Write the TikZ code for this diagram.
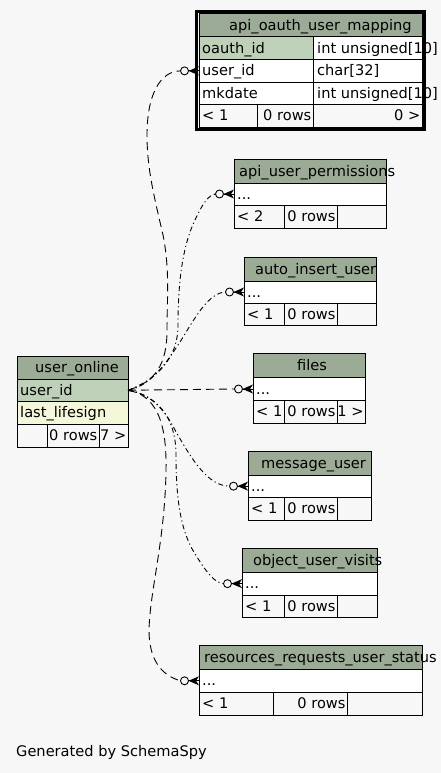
\documentclass[tikz,border=0pt]{standalone}
\usepackage{fontspec}
\setmainfont{DejaVu Sans}
\usetikzlibrary{calc}
\definecolor{bgc}{HTML}{F7F7F7}
\definecolor{hdr}{HTML}{9BAB96}
\definecolor{pkc}{HTML}{BED1B8}
\definecolor{idx}{HTML}{F4F7DA}
\newcommand\tabfont{\fontsize{14.6}{17}\selectfont}
\newcommand\mkcell[6]{\node[cell,fill=#2,minimum width=#5pt,minimum height=#6pt] (#1) at (#3,#4) {};}
\begin{document}
\begin{tikzpicture}[x=1pt,y=-1pt,
 cell/.style={draw=black,line width=1pt,anchor=north west,inner sep=0pt,outer sep=0pt},
 tL/.style={anchor=base west,inner sep=0pt,font=\tabfont},
 tR/.style={anchor=base east,inner sep=0pt,font=\tabfont},
 conn/.style={line width=0.9pt,dash pattern=on 8pt off 5pt},
 connB/.style={line width=0.9pt,dash pattern=on 5pt off 3pt on 1.2pt off 3pt},
 crowodot/.pic={\draw[line width=0.9pt] (-14.5,0) circle[radius=4pt];
   \fill (-10.5,0) -- (0,-4.5) -- (-3,0) -- (0,4.5) -- cycle;
   \draw[line width=0.9pt] (-10.5,0) -- (0,0);}
]
\fill[bgc] (0,0) rectangle (441,773);
\useasboundingbox (0,0) rectangle (441,773);

% api_oauth_user_mapping
\mkcell{oa-h}{hdr}{199}{14}{223}{23}
\mkcell{oa-1a}{pkc}{199}{37}{114}{22.6}
\mkcell{oa-1b}{white}{313}{37}{109}{22.6}
\mkcell{oa-2a}{white}{199}{59.6}{114}{22.6}
\mkcell{oa-2b}{white}{313}{59.6}{109}{22.6}
\mkcell{oa-3a}{white}{199}{82.2}{114}{22.6}
\mkcell{oa-3b}{white}{313}{82.2}{109}{22.6}
\mkcell{oa-f1}{bgc}{199}{104.8}{58}{22.4}
\mkcell{oa-f2}{bgc}{257}{104.8}{56}{22.4}
\mkcell{oa-f3}{bgc}{313}{104.8}{109}{22.4}
\node[tL] (oa-ht) at ($(oa-h.west)+(30,5)$) {api\_oauth\_user\_mapping};
\node[tL] (oa-1at) at ($(oa-1a.west)+(3,5)$) {oauth\_id};
\node[tL] (oa-1bt) at ($(oa-1b.west)+(4,5)$) {int unsigned[10]};
\node[tL] (oa-2at) at ($(oa-2a.west)+(3,5)$) {user\_id};
\node[tL] (oa-2bt) at ($(oa-2b.west)+(4,5)$) {char[32]};
\node[tL] (oa-3at) at ($(oa-3a.west)+(3,5)$) {mkdate};
\node[tL] (oa-3bt) at ($(oa-3b.west)+(4,5)$) {int unsigned[10]};
\node[tL] (oa-f1t) at ($(oa-f1.west)+(3,5)$) {< 1};
\node[tR] (oa-f2t) at ($(oa-f2.east)+(-1.5,5)$) {0 rows};
\node[tR] (oa-f3t) at ($(oa-f3.east)+(-1.5,5)$) {0 >};
\node[draw,line width=3pt,anchor=north west,inner sep=0pt,outer sep=0pt,minimum width=228pt,minimum height=118pt] (oa-frame) at (196.5,11.5) {};

% user_online
\mkcell{uo-h}{hdr}{17}{356}{111}{23}
\mkcell{uo-1}{pkc}{17}{379}{111}{22.5}
\mkcell{uo-2}{idx}{17}{401.5}{111}{22.5}
\mkcell{uo-f1}{bgc}{17}{424}{30}{23}
\mkcell{uo-f2}{bgc}{47}{424}{52}{23}
\mkcell{uo-f3}{bgc}{99}{424}{29}{23}
\node[tL] (uo-ht) at ($(uo-h.west)+(18,5)$) {user\_online};
\node[tL] (uo-1t) at ($(uo-1.west)+(3,5)$) {user\_id};
\node[tL] (uo-2t) at ($(uo-2.west)+(3,5)$) {last\_lifesign};
\node[tR] (uo-f2t) at ($(uo-f2.east)+(-1.5,5)$) {0 rows};
\node[tR] (uo-f3t) at ($(uo-f3.east)+(-1.5,5)$) {7 >};

% api_user_permissions
\mkcell{pe-h}{hdr}{234}{159}{152}{24}
\mkcell{pe-1}{white}{234}{183}{152}{22}
\mkcell{pe-f1}{bgc}{234}{205}{50}{23}
\mkcell{pe-f2}{bgc}{284}{205}{53}{23}
\mkcell{pe-f3}{bgc}{337}{205}{49}{23}
\node[tL] (pe-ht) at ($(pe-h.west)+(5,5)$) {api\_user\_permissions};
\node[tL] (pe-1t) at ($(pe-1.west)+(3,5)$) {...};
\node[tL] (pe-f1t) at ($(pe-f1.west)+(3,5)$) {< 2};
\node[tR] (pe-f2t) at ($(pe-f2.east)+(-1.3,5)$) {0 rows};

% auto_insert_user
\mkcell{ai-h}{hdr}{244}{257}{132}{24}
\mkcell{ai-1}{white}{244}{281}{132}{22}
\mkcell{ai-f1}{bgc}{244}{303}{40}{22}
\mkcell{ai-f2}{bgc}{284}{303}{53}{22}
\mkcell{ai-f3}{bgc}{337}{303}{39}{22}
\node[tL] (ai-ht) at ($(ai-h.west)+(11,5)$) {auto\_insert\_user};
\node[tL] (ai-1t) at ($(ai-1.west)+(3,5)$) {...};
\node[tL] (ai-f1t) at ($(ai-f1.west)+(3,5)$) {< 1};
\node[tR] (ai-f2t) at ($(ai-f2.east)+(-1.3,5)$) {0 rows};

% files
\mkcell{fi-h}{hdr}{253}{353.3}{112}{24}
\mkcell{fi-1}{white}{253}{377.3}{112}{23.4}
\mkcell{fi-f1}{bgc}{253}{400.7}{31}{22.3}
\mkcell{fi-f2}{bgc}{284}{400.7}{53}{22.3}
\mkcell{fi-f3}{bgc}{337}{400.7}{28}{22.3}
\node[tL] (fi-ht) at ($(fi-h.west)+(44,5)$) {files};
\node[tL] (fi-1t) at ($(fi-1.west)+(3,5)$) {...};
\node[tL] (fi-f1t) at ($(fi-f1.west)+(3,5)$) {< 1};
\node[tR] (fi-f2t) at ($(fi-f2.east)+(-1.3,5)$) {0 rows};
\node[tR] (fi-f3t) at ($(fi-f3.east)+(-1.3,5)$) {1 >};

% message_user
\mkcell{mu-h}{hdr}{248}{451.3}{123}{23.7}
\mkcell{mu-1}{white}{248}{475}{123}{22.3}
\mkcell{mu-f1}{bgc}{248}{497.3}{36}{22.7}
\mkcell{mu-f2}{bgc}{284}{497.3}{53}{22.7}
\mkcell{mu-f3}{bgc}{337}{497.3}{34}{22.7}
\node[tL] (mu-ht) at ($(mu-h.west)+(13,5)$) {message\_user};
\node[tL] (mu-1t) at ($(mu-1.west)+(3,5)$) {...};
\node[tL] (mu-f1t) at ($(mu-f1.west)+(3,5)$) {< 1};
\node[tR] (mu-f2t) at ($(mu-f2.east)+(-1.3,5)$) {0 rows};

% object_user_visits
\mkcell{ov-h}{hdr}{242}{548.3}{135}{24}
\mkcell{ov-1}{white}{242}{572.3}{135}{22.7}
\mkcell{ov-f1}{bgc}{242}{595}{42}{22.3}
\mkcell{ov-f2}{bgc}{284}{595}{53}{22.3}
\mkcell{ov-f3}{bgc}{337}{595}{40}{22.3}
\node[tL] (ov-ht) at ($(ov-h.west)+(11,5)$) {object\_user\_visits};
\node[tL] (ov-1t) at ($(ov-1.west)+(3,5)$) {...};
\node[tL] (ov-f1t) at ($(ov-f1.west)+(3,5)$) {< 1};
\node[tR] (ov-f2t) at ($(ov-f2.east)+(-1.3,5)$) {0 rows};

% resources_requests_user_status
\mkcell{rr-h}{hdr}{199}{645}{223}{24.3}
\mkcell{rr-1}{white}{199}{669.3}{223}{23}
\mkcell{rr-f1}{bgc}{199}{692.3}{74}{22.7}
\mkcell{rr-f2}{bgc}{273}{692.3}{74}{22.7}
\mkcell{rr-f3}{bgc}{347}{692.3}{75}{22.7}
\node[tL] (rr-ht) at ($(rr-h.west)+(5,5)$) {resources\_requests\_user\_status};
\node[tL] (rr-1t) at ($(rr-1.west)+(3,5)$) {...};
\node[tL] (rr-f1t) at ($(rr-f1.west)+(3,5)$) {< 1};
\node[tR] (rr-f2t) at ($(rr-f2.east)+(-1.3,5)$) {0 rows};

\node[tL] (gen) at (16,756) {Generated by SchemaSpy};

% connector ends
\coordinate (e-oa) at ($(oa-2a.west)+(-18.5,0)$);
\coordinate (e-pe) at ($(pe-1.west)+(-18.5,0)$);
\coordinate (e-ai) at ($(ai-1.west)+(-18.5,0)$);
\coordinate (e-fi) at ($(fi-1.west)+(-18.5,0)$);
\coordinate (e-mu) at ($(mu-1.west)+(-18.5,0)$);
\coordinate (e-ov) at ($(ov-1.west)+(-18.5,0)$);
\coordinate (e-rr) at ($(rr-1.west)+(-18.5,0)$);

\draw[conn] (uo-1.east) .. controls (155,382) and (167,365) .. (167,330)
  .. controls (167,300) and (170,270) .. (163,235)
  .. controls (155,200) and (147,170) .. (147,135)
  .. controls (147,95) and (160,71) .. (e-oa);
\draw[connB] (uo-1.east) .. controls (155,380) and (178,360) .. (178,325)
  .. controls (178,280) and (183,245) .. (195,220)
  .. controls (202,205) and (208,195) .. (e-pe);
\draw[connB] (uo-1.east) .. controls (150,386) and (165,365) .. (180,342)
  .. controls (195,318) and (208,293) .. (e-ai);
\draw[conn] (uo-1.east) -- (e-fi);
\draw[connB] (uo-1.east) .. controls (150,393) and (165,410) .. (175,430)
  .. controls (192,460) and (208,486) .. (e-mu);
\draw[connB] (uo-1.east) .. controls (155,395) and (176,415) .. (176,455)
  .. controls (176,505) and (182,535) .. (197,557)
  .. controls (207,573) and (215,583) .. (e-ov);
\draw[conn] (uo-1.east) .. controls (155,395) and (167,420) .. (166,470)
  .. controls (165,540) and (150,590) .. (149,630)
  .. controls (149,658) and (160,675) .. (e-rr);

\pic at (oa-2a.west) {crowodot};
\pic at (pe-1.west) {crowodot};
\pic at (ai-1.west) {crowodot};
\pic at (fi-1.west) {crowodot};
\pic at (mu-1.west) {crowodot};
\pic at (ov-1.west) {crowodot};
\pic at (rr-1.west) {crowodot};
\end{tikzpicture}
\end{document}
